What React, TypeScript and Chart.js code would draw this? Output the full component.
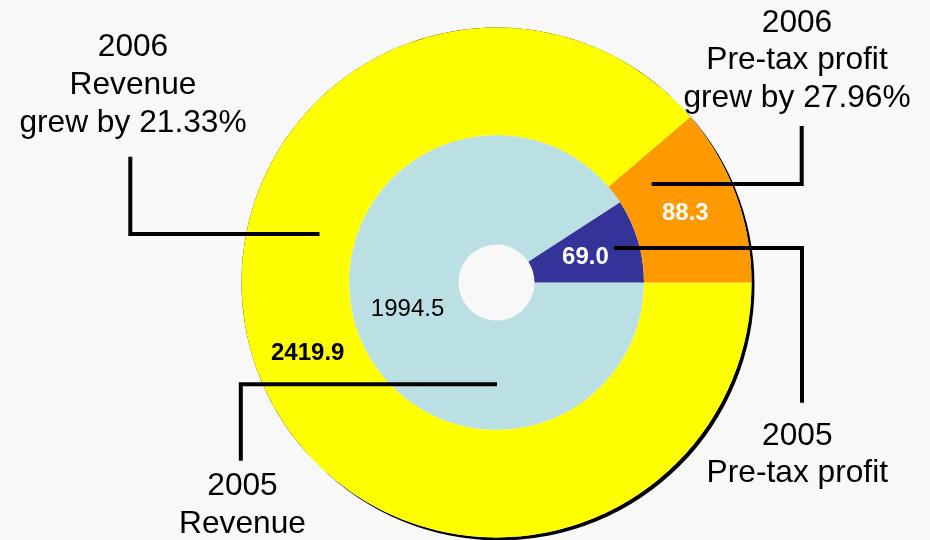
import React, { useEffect, useRef } from "react";
import { Chart, ArcElement, DoughnutController } from "chart.js";

Chart.register(ArcElement, DoughnutController);

// ---- data ----
const segments = ["Revenue", "Pre-tax profit"];
const values2006 = [2419.9, 88.3];
const values2005 = [1994.5, 69.0];
// share of each ring as it is drawn in the picture (percent of the ring)
const drawnShare2006 = [88.75, 11.25];
const drawnShare2005 = [90.83, 9.17];
const colors2006 = ["#FFFF00", "#FF9900"];
const colors2005 = ["#BAE0E3", "#333399"];

const callout2006Revenue = ["2006", "Revenue", "grew by 21.33%"];
const callout2006Profit = ["2006", "Pre-tax profit", "grew by 27.96%"];
const callout2005Profit = ["2005", "Pre-tax profit"];
const callout2005Revenue = ["2005", "Revenue"];

const FONT = "'Liberation Sans', Arial, Helvetica, sans-serif";

// value label styles [ring][segment]
const valueStyles = [
  [
    { color: "#000000", weight: "bold" },
    { color: "#FFFFFF", weight: "bold" },
  ],
  [
    { color: "#000000", weight: "normal" },
    { color: "#FFFFFF", weight: "bold" },
  ],
];
const ringValues = [values2006, values2005];

// callouts: offsets relative to the chart centre
const callouts = [
  { text: callout2006Revenue, x: -363.5, y: -226.5, path: [[-366.2, -125.8], [-366.2, -48.5], [-177, -48.5]] },
  { text: callout2006Profit, x: 300.5, y: -251, path: [[305.2, -156.5], [305.2, -98.5], [155.2, -98.5]] },
  { text: callout2005Profit, x: 300.8, y: 162, path: [[117.5, -34.5], [305.5, -34.5], [305.5, 120.2]] },
  { text: callout2005Revenue, x: -254, y: 212.5, path: [[0.5, 101.7], [-255.7, 101.7], [-255.7, 178.2]] },
];

const decorPlugin = {
  id: "decor",
  beforeDatasetsDraw(chart: any) {
    const arc = chart.getDatasetMeta(0).data[0];
    if (!arc) return;
    const { x, y, outerRadius } = arc.getProps(["x", "y", "outerRadius"], true);
    const ctx = chart.ctx;
    ctx.save();
    ctx.fillStyle = "#000000";
    ctx.beginPath();
    ctx.arc(x + 3, y + 3, outerRadius, 0, Math.PI * 2);
    ctx.moveTo(x + outerRadius, y);
    ctx.arc(x, y, outerRadius, 0, Math.PI * 2);
    ctx.fill("evenodd");
    ctx.restore();
  },
  afterDatasetsDraw(chart: any) {
    const ctx = chart.ctx;
    const arc0 = chart.getDatasetMeta(0).data[0];
    if (!arc0) return;
    const { x: cx, y: cy } = arc0.getProps(["x", "y"], true);

    // leader lines
    ctx.save();
    ctx.strokeStyle = "#000000";
    ctx.lineWidth = 4;
    ctx.lineJoin = "miter";
    ctx.lineCap = "butt";
    callouts.forEach((c) => {
      ctx.beginPath();
      c.path.forEach((p, i) => {
        if (i === 0) ctx.moveTo(cx + p[0], cy + p[1]);
        else ctx.lineTo(cx + p[0], cy + p[1]);
      });
      ctx.stroke();
    });
    ctx.restore();

    // value labels at arc centroids
    ctx.save();
    ctx.textAlign = "center";
    ctx.textBaseline = "middle";
    [0, 1].forEach((di) => {
      const meta = chart.getDatasetMeta(di);
      meta.data.forEach((arc: any, i: number) => {
        const pos = arc.tooltipPosition(true);
        const st = valueStyles[di][i];
        ctx.font = `${st.weight} 24px ${FONT}`;
        ctx.fillStyle = st.color;
        ctx.fillText(ringValues[di][i].toFixed(1), pos.x, pos.y + 1);
      });
    });
    ctx.restore();

    // callout texts
    ctx.save();
    ctx.textAlign = "center";
    ctx.textBaseline = "alphabetic";
    ctx.fillStyle = "#000000";
    ctx.font = `31.7px ${FONT}`;
    callouts.forEach((c) => {
      c.text.forEach((line, i) => {
        ctx.fillText(line, cx + c.x, cy + c.y + i * 37.8);
      });
    });
    ctx.restore();
  },
};

export default function App() {
  const canvasRef = useRef<HTMLCanvasElement | null>(null);

  useEffect(() => {
    if (!canvasRef.current) return;
    const chart = new Chart(canvasRef.current, {
      type: "doughnut",
      data: {
        labels: segments,
        datasets: [
          {
            label: "2006",
            data: drawnShare2006,
            backgroundColor: colors2006,
            borderWidth: 0,
            hoverOffset: 0,
            weight: 107.5,
          } as any,
          {
            label: "2005",
            data: drawnShare2005,
            backgroundColor: colors2005,
            borderWidth: 0,
            hoverOffset: 0,
            weight: 109.5,
          } as any,
        ],
      },
      options: {
        responsive: false,
        animation: false,
        events: [],
        rotation: 90,
        cutout: 38,
        layout: { padding: { left: 241.5, right: 178.5, top: 27.5, bottom: 2.5 } },
        plugins: { legend: { display: false }, tooltip: { enabled: false } },
      } as any,
      plugins: [decorPlugin],
    });
    return () => chart.destroy();
  }, []);

  return (
    <div
      style={{
        position: "fixed",
        left: 0,
        top: 0,
        width: 930,
        height: 540,
        background: "#F8F8F8",
        overflow: "hidden",
      }}
    >
      <canvas ref={canvasRef} width={930} height={540} style={{ display: "block" }} />
    </div>
  );
}
